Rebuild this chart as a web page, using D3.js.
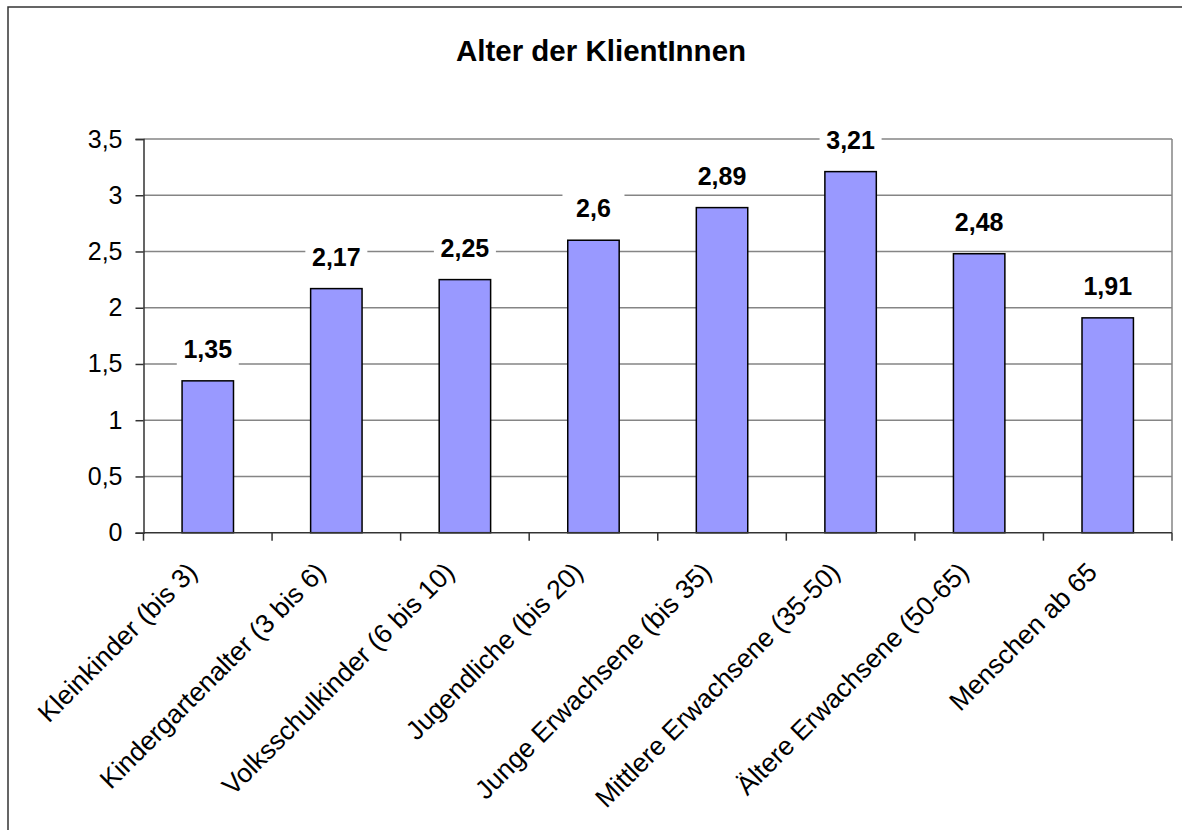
<!DOCTYPE html>
<html><head><meta charset="utf-8">
<script src="https://cdn.jsdelivr.net/npm/d3@7"></script>
<style>html,body{margin:0;padding:0;background:#fff;}svg{display:block;font-family:"Liberation Sans",Arial,sans-serif;}</style>
</head><body>
<script>
const categories = ["Kleinkinder (bis 3)","Kindergartenalter (3 bis 6)","Volksschulkinder (6 bis 10)","Jugendliche (bis 20)","Junge Erwachsene (bis 35)","Mittlere Erwachsene (35-50)","Ältere Erwachsene (50-65)","Menschen ab 65"];
const values = [1.35,2.17,2.25,2.6,2.89,3.21,2.48,1.91];
const yTicks = [0,0.5,1,1.5,2,2.5,3,3.5];
const valueLabels = ["1,35","2,17","2,25","2,6","2,89","3,21","2,48","1,91"];
const chartTitle = "Alter der KlientInnen";

(function(){
const W = 1182, H = 830;
const pL = 143.5, pR = 1172, pT = 139, pB = 532.7;
const fmt = v => String(v).replace(".", ",");

const svg = d3.select("body").append("svg").attr("width", W).attr("height", H);

// outer border
svg.append("rect").attr("x", 8).attr("y", 7).attr("width", 1300).attr("height", 1000)
  .attr("fill", "#fff").attr("stroke", "#333").attr("stroke-width", 1.5);

const x = d3.scaleBand().domain(categories).range([pL, pR]).paddingInner(0.6).paddingOuter(0.3);
const xb = d3.scaleBand().domain(categories).range([pL, pR]);
const y = d3.scaleLinear().domain([0, 3.5]).range([pB, pT]);

// gridlines
svg.append("g").selectAll("line").data(yTicks.filter(d => d > 0)).join("line")
  .attr("x1", pL).attr("x2", pR).attr("y1", d => y(d)).attr("y2", d => y(d))
  .attr("stroke", "#858585").attr("stroke-width", 1.5);
// right border of plot
svg.append("line").attr("x1", pR).attr("x2", pR).attr("y1", pT).attr("y2", pB)
  .attr("stroke", "#858585").attr("stroke-width", 1.5);

// bars
svg.append("g").selectAll("rect").data(values).join("rect")
  .attr("x", (d, i) => x(categories[i])).attr("width", x.bandwidth())
  .attr("y", d => y(d)).attr("height", d => pB - y(d))
  .attr("fill", "#9999FF").attr("stroke", "#000").attr("stroke-width", 1.5);

// y axis
const yAxis = d3.axisLeft(y).tickValues(yTicks).tickFormat(fmt).tickSize(8).tickPadding(13);
const gy = svg.append("g").attr("transform", `translate(${pL},0)`).call(yAxis);
gy.select(".domain").attr("stroke", "#333").attr("stroke-width", 1.5);
gy.selectAll(".tick line").attr("stroke", "#333").attr("stroke-width", 1.5);
gy.selectAll(".tick text").attr("font-size", 25).attr("fill", "#000").attr("font-family", "Liberation Sans, Arial");

// x axis
const gx = svg.append("g").attr("transform", `translate(0,${pB})`);
gx.append("line").attr("x1", pL).attr("x2", pR).attr("stroke", "#333").attr("stroke-width", 1.5);
const bounds = categories.map(c => xb(c)).concat([pR]);
gx.selectAll("line.tk").data(bounds).join("line").attr("class", "tk")
  .attr("x1", d => d).attr("x2", d => d).attr("y1", 0).attr("y2", 8)
  .attr("stroke", "#333").attr("stroke-width", 1.5);
gx.selectAll("text").data(categories).join("text")
  .attr("transform", d => `translate(${xb(d) + xb.bandwidth() / 2 - 9},${41}) rotate(-45)`)
  .attr("text-anchor", "end").attr("font-size", 26.5).attr("fill", "#000")
  .text(d => d);

// data labels
const lbl = svg.append("g").selectAll("g").data(values).join("g")
  .attr("transform", (d, i) => `translate(${x(categories[i]) + x.bandwidth() / 2},${y(d) - 23})`);
lbl.append("rect").attr("x", -31).attr("y", -25).attr("width", 62).attr("height", 33).attr("fill", "#fff");
lbl.append("text").attr("text-anchor", "middle").attr("font-size", 25).attr("font-weight", "bold")
  .text((d, i) => valueLabels[i]);

// title
svg.append("text").attr("x", 601).attr("y", 61).attr("text-anchor", "middle")
  .attr("font-size", 29.5).attr("font-weight", "bold").text(chartTitle);
})();
</script>
</body></html>
